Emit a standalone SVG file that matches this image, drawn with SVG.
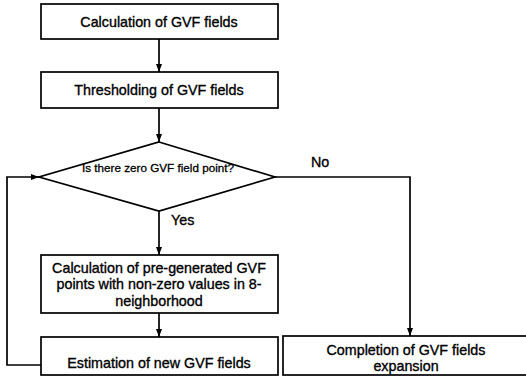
<svg xmlns="http://www.w3.org/2000/svg" width="526" height="385" viewBox="0 0 526 385">
<defs>
<marker id="arr" markerWidth="8" markerHeight="6" refX="8" refY="3" orient="auto" markerUnits="userSpaceOnUse">
<path d="M0,0 L8,3 L0,6 Z" fill="#000"/>
</marker>
<style>
.box{fill:#fff;stroke:#000;stroke-width:1.7}
.ln{fill:none;stroke:#000;stroke-width:1.7}
text{font-family:"Liberation Sans",Arial,sans-serif;font-size:14.3px;fill:#000;stroke:#000;stroke-width:0.35;text-anchor:middle}
.small{font-size:11.7px;stroke-width:0.3}
.lbl{font-size:14.3px;text-anchor:start}
</style>
</defs>
<rect width="526" height="385" fill="#fff"/>
<g id="connectors">
<line class="ln" x1="159" y1="39" x2="159" y2="72" marker-end="url(#arr)"/>
<line class="ln" x1="159" y1="108" x2="159" y2="142" marker-end="url(#arr)"/>
<line class="ln" x1="159" y1="211" x2="159" y2="255" marker-end="url(#arr)"/>
<line class="ln" x1="159" y1="313" x2="159" y2="337" marker-end="url(#arr)"/>
<polyline class="ln" points="275,177 410,177 410,336" marker-end="url(#arr)"/>
<polyline class="ln" points="41,365 7,365 7,177 39,177" marker-end="url(#arr)"/>
<text class="lbl" x="311" y="167">No</text>
<text class="lbl" x="171" y="225">Yes</text>
</g>
<g id="n1">
<rect class="box" x="41" y="4" width="237" height="35"/>
<text x="159" y="27">Calculation of GVF fields</text>
</g>
<g id="n2">
<rect class="box" x="41" y="72" width="237" height="36"/>
<text x="159" y="95">Thresholding of GVF fields</text>
</g>
<g id="n3">
<polygon class="box" points="159,142 275,177 159,211 39,177"/>
<text class="small" x="158" y="172">Is there zero GVF field point?</text>
</g>
<g id="n4">
<rect class="box" x="41" y="255" width="237" height="58"/>
<text x="159" y="273">Calculation of pre-generated GVF</text>
<text x="159" y="289">points with non-zero values in 8-</text>
<text x="159" y="306">neighborhood</text>
</g>
<g id="n5">
<rect class="box" x="41" y="337" width="237" height="38"/>
<text x="159" y="368">Estimation of new GVF fields</text>
</g>
<g id="n6">
<rect class="box" x="283" y="336" width="250" height="39"/>
<text x="406" y="355">Completion of GVF fields</text>
<text x="406" y="371">expansion</text>
</g>
</svg>
